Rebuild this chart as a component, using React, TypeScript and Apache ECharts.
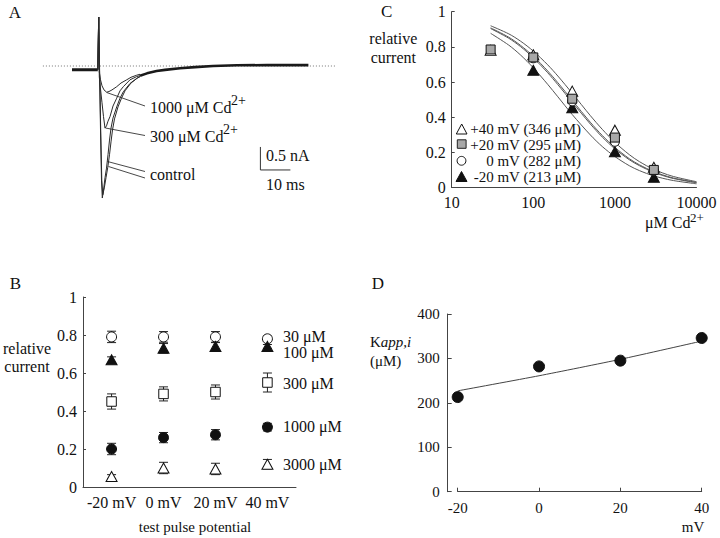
import React, { useEffect, useRef } from 'react';
import * as echarts from 'echarts';

const FONT = 'Liberation Serif, Times New Roman, serif';
const INK = '#111';
const AXIS = '#444';

// ---------- Panel A : current traces (time in ms, current in nA) ----------
const A_HOLD = [[0, -0.08], [8.6, -0.08]];
const A_CONTROL_1 = [[8.6, -0.08], [8.9, 1.065], [9.17, -0.09], [9.5, -1.39], [9.83, -2.48], [10.1, -2.87], [10.5, -2.7], [11.0, -2.43], [11.5, -2.22], [12.0, -1.93], [12.5, -1.61], [13.0, -1.35], [13.67, -1.13], [14.9, -0.89], [16.0, -0.7], [17.1, -0.56], [19.33, -0.38], [21.57, -0.27], [22.67, -0.23]];
const A_CONTROL_2 = [[8.6, -0.08], [8.9, 1.065], [9.2, -0.09], [9.57, -1.39], [9.93, -2.48], [10.27, -2.8], [10.77, -2.65], [11.33, -2.43], [11.93, -2.2], [12.5, -1.93], [13.0, -1.65], [13.5, -1.39], [14.17, -1.15], [15.33, -0.89], [16.5, -0.7], [17.67, -0.54], [19.67, -0.37], [21.83, -0.26], [22.67, -0.23]];
const A_CD300 = [[8.6, -0.08], [8.9, 1.065], [9.1, -0.24], [9.5, -0.5], [10.0, -0.8], [10.5, -1.1], [11.0, -1.35], [11.5, -1.3], [12.0, -1.2], [12.67, -1.1], [13.67, -0.87], [14.9, -0.7], [16.0, -0.54], [17.1, -0.45], [19.33, -0.3], [21.57, -0.23], [22.67, -0.21]];
const A_CD1000 = [[8.6, -0.08], [8.9, 1.065], [9.1, -0.13], [9.5, -0.3], [10.0, -0.43], [10.67, -0.52], [11.57, -0.57], [12.33, -0.555], [13.33, -0.52], [14.9, -0.45], [16.33, -0.37], [18.23, -0.3], [19.67, -0.245], [21.57, -0.2], [22.67, -0.18]];
const A_TAIL = [[22.67, -0.21], [25, -0.16], [28.2, -0.11], [31, -0.085], [36, -0.05], [41, -0.025], [47, 0], [55, 0.015], [65, 0.02], [78.8, 0.02]];
const A_ZERO_SPAN = [-9.7, 87.7];
const SCALE_NA = 0.5;
const SCALE_MS = 10;
const SCALE_ORIGIN = [62.8, -1.76];

// ---------- Panel B : relative current vs test pulse potential ----------
const B_POTENTIALS = [-20, 0, 20, 40];
const B_30 = [0.79, 0.79, 0.79, 0.78];
const B_30_ERR = [0.03, 0.028, 0.028, 0.015];
const B_100 = [0.67, 0.73, 0.74, 0.74];
const B_100_ERR = [0.015, 0.025, 0.02, 0.01];
const B_300 = [0.45, 0.49, 0.5, 0.55];
const B_300_ERR = [0.04, 0.037, 0.037, 0.05];
const B_1000 = [0.2, 0.26, 0.275, 0.315];
const B_1000_ERR = [0.03, 0.027, 0.027, 0.02];
const B_3000 = [0.055, 0.1, 0.095, 0.12];
const B_3000_ERR = [0.01, 0.03, 0.03, 0.025];
const B_LABELS = ['30 \u03bcM', '100 \u03bcM', '300 \u03bcM', '1000 \u03bcM', '3000 \u03bcM'];

// ---------- Panel C : dose-response ----------
const C_P40 = [[30, 0.78], [100, 0.755], [300, 0.548], [1000, 0.326], [3000, 0.115]];
const C_P20 = [[30, 0.785], [100, 0.74], [300, 0.505], [1000, 0.284], [3000, 0.1]];
const C_0 = [[100, 0.735], [300, 0.49], [1000, 0.26], [3000, 0.095]];
const C_M20 = [[100, 0.667], [300, 0.454], [1000, 0.203], [3000, 0.058]];
const C_FIT_CONC = [30, 50, 70, 100, 150, 200, 300, 500, 700, 1000, 1500, 2000, 3000, 5000, 10000];
const C_FIT_346 = [0.92, 0.874, 0.832, 0.776, 0.698, 0.634, 0.536, 0.409, 0.331, 0.257, 0.187, 0.147, 0.103, 0.065, 0.033];
const C_FIT_295 = [0.908, 0.855, 0.808, 0.747, 0.663, 0.596, 0.496, 0.371, 0.296, 0.228, 0.164, 0.129, 0.09, 0.056, 0.029];
const C_FIT_282 = [0.904, 0.849, 0.801, 0.738, 0.653, 0.585, 0.485, 0.361, 0.287, 0.22, 0.158, 0.124, 0.086, 0.053, 0.027];
const C_FIT_213 = [0.877, 0.81, 0.753, 0.681, 0.587, 0.516, 0.415, 0.299, 0.233, 0.176, 0.124, 0.096, 0.066, 0.041, 0.021];
const C_LEGEND = ['+40 mV (346 \u03bcM)', '+20 mV (295 \u03bcM)', '0 mV (282 \u03bcM)', '-20 mV (213 \u03bcM)'];

// ---------- Panel D : Kapp,i vs potential ----------
const D_MV = [-20, 0, 20, 40];
const D_K = [213, 282, 295, 346];
const D_FIT = [[-20, 227], [0, 261], [20, 298], [40, 339]];

const zip = (xs: number[], ys: number[]) => xs.map((x, i) => [x, ys[i]]);
const zip3 = (xs: number[], ys: number[], es: number[]) => xs.map((x, i) => [x, ys[i], es[i]]);

const txt = (x: number, y: number, text: string, size = 16, align = 'left', extra: any = {}) => ({
  type: 'text',
  x,
  y,
  silent: true,
  style: {
    text,
    fill: INK,
    fontSize: size,
    fontFamily: FONT,
    align,
    verticalAlign: 'middle',
    textAlign: align,
    textVerticalAlign: 'middle',
    ...extra,
  },
});

const gline = (x1: number, y1: number, x2: number, y2: number) => ({
  type: 'line',
  silent: true,
  shape: { x1, y1, x2, y2 },
  style: { stroke: '#333', lineWidth: 0.9 },
});

export default function App() {
  const ref = useRef<HTMLDivElement>(null);

  useEffect(() => {
    if (!ref.current) return;
    const chart = echarts.init(ref.current, undefined, { renderer: 'svg' });

    const axisLabel = (size = 16, margin = 6) => ({
      color: INK,
      fontFamily: FONT,
      fontSize: size,
      margin,
    });
    const axisLine = { show: true, onZero: false, lineStyle: { color: AXIS, width: 1 } };
    const fmt1 = (v: number) => (v === 0 ? '0' : v === 1 ? '1' : v.toFixed(1));

    const traceLine = (data: number[][], width = 1, color = '#2a2a2a') => ({
      type: 'line',
      xAxisIndex: 0,
      yAxisIndex: 0,
      data,
      showSymbol: false,
      symbol: 'none',
      silent: true,
      lineStyle: { color, width },
      z: 3,
    });

    const errSeries = (data: number[][]) => ({
      type: 'custom',
      xAxisIndex: 1,
      yAxisIndex: 1,
      data,
      silent: true,
      z: 2,
      encode: { x: 0, y: 1 },
      renderItem: (_p: any, api: any) => {
        const x = api.value(0);
        const y = api.value(1);
        const e = api.value(2);
        const top = api.coord([x, y + e]);
        const bot = api.coord([x, y - e]);
        const hw = 4.5;
        const st = { stroke: '#222', lineWidth: 1 };
        return {
          type: 'group',
          children: [
            { type: 'line', shape: { x1: top[0], y1: top[1], x2: bot[0], y2: bot[1] }, style: st },
            { type: 'line', shape: { x1: top[0] - hw, y1: top[1], x2: top[0] + hw, y2: top[1] }, style: st },
            { type: 'line', shape: { x1: bot[0] - hw, y1: bot[1], x2: bot[0] + hw, y2: bot[1] }, style: st },
          ],
        };
      },
    });

    const scatter = (xi: number, data: number[][], symbol: string, size: any, fill: string, z = 4) => ({
      type: 'scatter',
      xAxisIndex: xi,
      yAxisIndex: xi,
      data,
      symbol,
      symbolSize: size,
      silent: true,
      z,
      itemStyle: { color: fill, borderColor: '#111', borderWidth: 1, opacity: 1 },
    });

    const fitLine = (ys: number[]) => ({
      type: 'line',
      xAxisIndex: 2,
      yAxisIndex: 2,
      data: zip(C_FIT_CONC, ys),
      showSymbol: false,
      symbol: 'none',
      smooth: 0.3,
      silent: true,
      z: 2,
      lineStyle: { color: '#555', width: 1 },
    });

    const sb = SCALE_ORIGIN;
    const option: any = {
      animation: false,
      backgroundColor: '#fff',
      textStyle: { fontFamily: FONT, color: INK },
      grid: [
        { left: 42, top: 10.8, width: 300, height: 193.2, containLabel: false, outerBoundsMode: 'none' },
        { left: 83, top: 297, width: 213, height: 190, containLabel: false, outerBoundsMode: 'none' },
        { left: 451.7, top: 11.7, width: 244.8, height: 175.8, containLabel: false, outerBoundsMode: 'none' },
        { left: 457.7, top: 314, width: 244, height: 177.7, containLabel: false, outerBoundsMode: 'none' },
      ],
      xAxis: [
        { gridIndex: 0, type: 'value', min: -10, max: 90, show: false },
        {
          gridIndex: 1, type: 'value', min: -31, max: 51,
          axisLine, axisTick: { show: false }, splitLine: { show: false },
          axisLabel: { ...axisLabel(16, 7), customValues: B_POTENTIALS, formatter: (v: number) => `${v} mV` },
        },
        {
          gridIndex: 2, type: 'log', logBase: 10, min: 10, max: 10000,
          axisLine, axisTick: { show: false }, splitLine: { show: false }, minorTick: { show: false },
          axisLabel: { ...axisLabel(16, 7), formatter: (v: number) => String(Math.round(v)) },
        },
        {
          gridIndex: 3, type: 'value', min: -20, max: 40, interval: 20,
          axisLine, axisTick: { show: true, inside: true, length: 4, lineStyle: { color: AXIS } },
          splitLine: { show: false },
          axisLabel: axisLabel(15, 9),
        },
      ],
      yAxis: [
        { gridIndex: 0, type: 'value', min: -3, max: 1.2, show: false },
        {
          gridIndex: 1, type: 'value', min: 0, max: 1, interval: 0.2,
          axisLine, axisTick: { show: true, inside: true, length: 3, lineStyle: { color: AXIS } },
          splitLine: { show: false },
          axisLabel: { ...axisLabel(16, 6), formatter: fmt1 },
        },
        {
          gridIndex: 2, type: 'value', min: 0, max: 1, interval: 0.2,
          axisLine, axisTick: { show: true, inside: true, length: 3, lineStyle: { color: AXIS } },
          splitLine: { show: false },
          axisLabel: { ...axisLabel(16, 6), formatter: fmt1 },
        },
        {
          gridIndex: 3, type: 'value', min: 0, max: 400, interval: 100, offset: 10,
          axisLine, axisTick: { show: true, inside: true, length: 4, lineStyle: { color: AXIS } },
          splitLine: { show: false },
          axisLabel: axisLabel(15, 8),
        },
      ],
      series: [
        // ---- A
        {
          type: 'line', xAxisIndex: 0, yAxisIndex: 0, silent: true, showSymbol: false, symbol: 'none',
          data: [[A_ZERO_SPAN[0], 0], [A_ZERO_SPAN[1], 0]],
          lineStyle: { color: '#777', width: 1, type: [1, 2] }, z: 1,
        },
        traceLine(A_HOLD, 3, '#1a1a1a'),
        traceLine(A_CONTROL_1),
        traceLine(A_CONTROL_2),
        traceLine(A_CD300),
        traceLine(A_CD1000),
        traceLine(A_TAIL, 2.6, '#1a1a1a'),
        {
          type: 'line', xAxisIndex: 0, yAxisIndex: 0, silent: true, showSymbol: false, symbol: 'none',
          data: [[sb[0], sb[1]], [sb[0], sb[1] - SCALE_NA], [sb[0] + SCALE_MS, sb[1] - SCALE_NA]],
          lineStyle: { color: '#333', width: 1 }, z: 3,
        },
        // ---- B
        errSeries(zip3(B_POTENTIALS, B_30, B_30_ERR)),
        errSeries(zip3(B_POTENTIALS, B_100, B_100_ERR)),
        errSeries(zip3(B_POTENTIALS, B_300, B_300_ERR)),
        errSeries(zip3(B_POTENTIALS, B_1000, B_1000_ERR)),
        errSeries(zip3(B_POTENTIALS, B_3000, B_3000_ERR)),
        scatter(1, zip(B_POTENTIALS, B_30), 'circle', 10, '#fff'),
        scatter(1, zip(B_POTENTIALS, B_100), 'triangle', [11, 10], '#111'),
        scatter(1, zip(B_POTENTIALS, B_300), 'rect', 9.5, '#fff'),
        scatter(1, zip(B_POTENTIALS, B_1000), 'circle', 10, '#111'),
        scatter(1, zip(B_POTENTIALS, B_3000), 'triangle', [11, 10], '#fff'),
        // ---- C
        fitLine(C_FIT_346),
        fitLine(C_FIT_295),
        fitLine(C_FIT_282),
        fitLine(C_FIT_213),
        scatter(2, C_M20, 'triangle', [11, 10], '#111', 4),
        scatter(2, C_0, 'circle', 9, '#fff', 5),
        scatter(2, C_P40, 'triangle', [11, 10], '#fff', 6),
        scatter(2, C_P20, 'rect', 9, '#a8a8a8', 7),
        // ---- D
        {
          type: 'line', xAxisIndex: 3, yAxisIndex: 3, silent: true, showSymbol: false, symbol: 'none',
          data: D_FIT, smooth: 0.2, lineStyle: { color: '#444', width: 1 }, z: 2,
        },
        scatter(3, zip(D_MV, D_K), 'circle', 11, '#111'),
      ],
      graphic: [
        // panel letters
        txt(15, 12.5, 'A', 17, 'center'),
        txt(15.5, 283, 'B', 17, 'center'),
        txt(386.7, 11.7, 'C', 17, 'center'),
        txt(378, 283, 'D', 17, 'center'),
        // A annotations
        gline(106.7, 92.5, 145, 106),
        gline(105.5, 128, 145, 135.5),
        gline(107.5, 161.5, 145, 171.5),
        gline(108.5, 166.5, 145, 178),
        txt(150, 107, '1000 \u03bcM Cd', 16),
        txt(231, 100, '2+', 14),
        txt(150, 136, '300 \u03bcM Cd', 16),
        txt(223, 129, '2+', 14),
        txt(150, 174, 'control', 16),
        txt(266, 155, '0.5 nA', 16),
        txt(266, 184, '10 ms', 16),
        // B annotations
        txt(27, 348, 'relative', 16, 'center'),
        txt(27, 366, 'current', 16, 'center'),
        txt(195, 527, 'test pulse potential', 15, 'center'),
        txt(283, 336, B_LABELS[0], 16),
        txt(283, 352.7, B_LABELS[1], 16),
        txt(283, 383, B_LABELS[2], 16),
        txt(283, 426.7, B_LABELS[3], 16),
        txt(283, 464, B_LABELS[4], 16),
        // C annotations
        txt(393.3, 38.3, 'relative', 16, 'center'),
        txt(393.3, 57, 'current', 16, 'center'),
        txt(645, 222, '\u03bcM Cd', 16),
        txt(690, 217, '2+', 13),
        {
          type: 'polygon', silent: true, z: 10,
          shape: { points: [[456.3, 134], [467, 134], [461.7, 124]] },
          style: { fill: '#fff', stroke: '#111', lineWidth: 1 },
        },
        {
          type: 'rect', silent: true, z: 10,
          shape: { x: 457.3, y: 139.8, width: 8.8, height: 8.5 },
          style: { fill: '#a8a8a8', stroke: '#222', lineWidth: 1 },
        },
        {
          type: 'circle', silent: true, z: 10,
          shape: { cx: 461.5, cy: 160.8, r: 4.4 },
          style: { fill: '#fff', stroke: '#111', lineWidth: 1 },
        },
        {
          type: 'polygon', silent: true, z: 10,
          shape: { points: [[456, 181.5], [467, 181.5], [461.5, 171.5]] },
          style: { fill: '#111', stroke: '#111', lineWidth: 1 },
        },
        txt(581, 129, C_LEGEND[0], 15, 'right'),
        txt(581, 144.5, C_LEGEND[1], 15, 'right'),
        txt(581, 160.5, C_LEGEND[2], 15, 'right'),
        txt(581, 176.5, C_LEGEND[3], 15, 'right'),
        // D annotations
        {
          type: 'text', x: 370, y: 342, silent: true,
          style: {
            text: '{n|K}{i|app,i}',
            fill: INK,
            align: 'left', verticalAlign: 'middle', textAlign: 'left', textVerticalAlign: 'middle',
            rich: {
              n: { fontSize: 15, fontFamily: FONT, fill: INK, color: INK },
              i: { fontSize: 15, fontFamily: FONT, fontStyle: 'italic', fill: INK, color: INK },
            },
          },
        },
        txt(370, 361, '(\u03bcM)', 15),
        txt(693, 527, 'mV', 15, 'center'),
      ],
    };

    chart.setOption(option);
    return () => chart.dispose();
  }, []);

  return (
    <div
      ref={ref}
      style={{ position: 'fixed', left: 0, top: 0, width: 720, height: 538, background: '#fff' }}
    />
  );
}
